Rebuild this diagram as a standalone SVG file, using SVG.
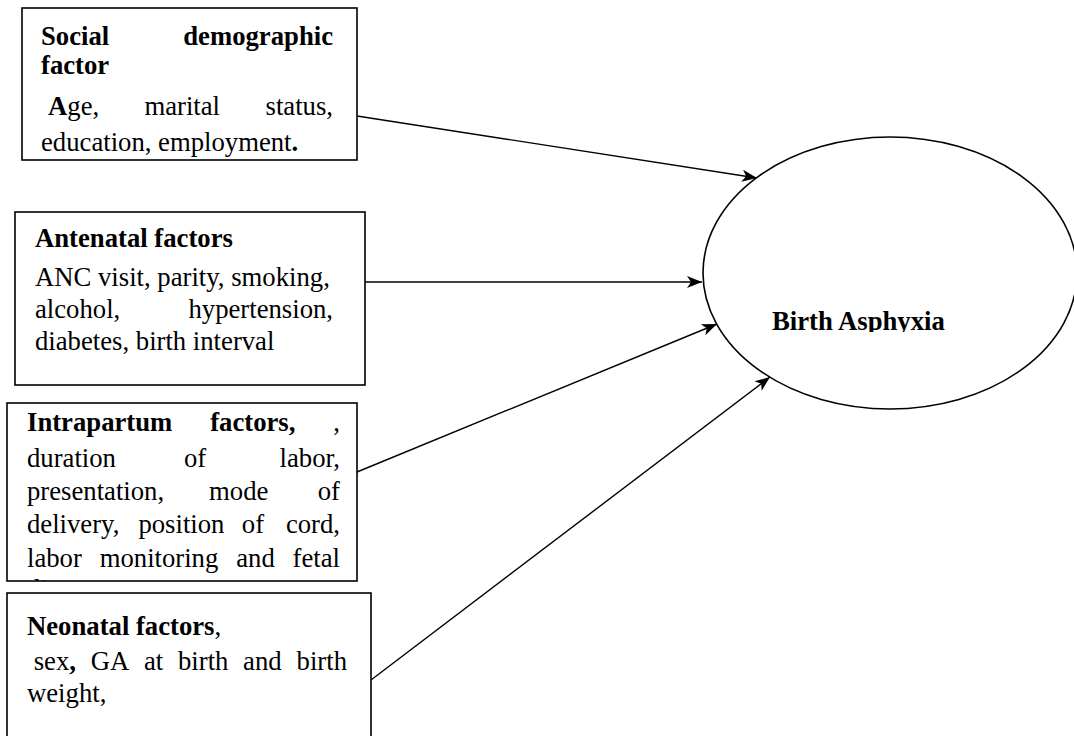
<svg xmlns="http://www.w3.org/2000/svg" width="1074" height="736" viewBox="0 0 1074 736">
<style>
text{font-family:"Liberation Serif","Times New Roman",serif;font-size:26.7px;fill:#000}
.b{font-weight:bold}
.box{fill:#fff;stroke:#000;stroke-width:1.6}
.conn{stroke:#000;stroke-width:1.4;fill:none;marker-end:url(#arr)}
.e{text-anchor:end}
</style>
<defs>
<marker id="arr" markerUnits="userSpaceOnUse" markerWidth="20" markerHeight="14" viewBox="-16 -7 18 14" refX="0" refY="0" orient="auto">
<path d="M0,0 L-15,-6 L-11,0 L-15,6 Z" fill="#000"/>
</marker>
<clipPath id="c3"><rect x="7" y="403" width="350" height="178"/></clipPath>
<clipPath id="cba"><rect x="700" y="280" width="300" height="52"/></clipPath>
</defs>
<rect width="1074" height="736" fill="#fff"/>
<g id="connectors">
<line class="conn" x1="357" y1="116" x2="757" y2="178"/>
<line class="conn" x1="365" y1="282" x2="702" y2="282"/>
<line class="conn" x1="357" y1="472" x2="717" y2="324"/>
<line class="conn" x1="371" y1="680" x2="770" y2="377"/>
</g>
<g id="social">
<rect class="box" x="22" y="8" width="335" height="152"/>
<text class="b" x="41" y="45">Social</text>
<text class="b e" x="333" y="45">demographic</text>
<text class="b" x="41" y="74">factor</text>
<text x="48" y="115"><tspan class="b">A</tspan>ge,</text>
<text x="144.4" y="115">marital</text>
<text class="e" x="333" y="115">status,</text>
<text x="41" y="151">education, employment<tspan class="b">.</tspan></text>
</g>
<g id="antenatal">
<rect class="box" x="15" y="212" width="350" height="173"/>
<text class="b" x="35" y="247">Antenatal factors</text>
<text x="35" y="286">ANC visit, parity, smoking,</text>
<text x="35" y="318">alcohol,</text>
<text class="e" x="333" y="318">hypertension,</text>
<text x="35" y="350">diabetes, birth interval</text>
</g>
<g id="intrapartum">
<rect class="box" x="7" y="403" width="350" height="178"/>
<g clip-path="url(#c3)">
<text class="b" x="27" y="431">Intrapartum</text>
<text class="b" x="210.2" y="431">factors,</text>
<text class="e" x="340" y="431">,</text>
<text x="27" y="467">duration</text>
<text x="183.9" y="467">of</text>
<text class="e" x="340" y="467">labor,</text>
<text x="27" y="500">presentation,</text>
<text x="209.1" y="500">mode</text>
<text class="e" x="340" y="500">of</text>
<text x="27" y="533">delivery,</text>
<text x="138.4" y="533">position</text>
<text x="241.8" y="533">of</text>
<text class="e" x="340" y="533">cord,</text>
<text x="27" y="567">labor</text>
<text x="99.7" y="567">monitoring</text>
<text x="236.2" y="567">and</text>
<text class="e" x="340" y="567">fetal</text>
<text x="27" y="598">distress</text>
</g>
</g>
<g id="neonatal">
<rect class="box" x="7" y="593" width="364" height="160"/>
<text x="27" y="635"><tspan class="b">Neonatal factors</tspan>,</text>
<text x="33.7" y="670">sex<tspan class="b">,</tspan></text>
<text x="90.7" y="670">GA</text>
<text x="144" y="670">at</text>
<text x="178" y="670">birth</text>
<text x="243.1" y="670">and</text>
<text class="e" x="347" y="670">birth</text>
<text x="27" y="702">weight,</text>
</g>
<g id="birth-asphyxia">
<ellipse cx="890" cy="273" rx="187" ry="136" fill="#fff" stroke="#000" stroke-width="1.6"/>
<text class="b" x="772" y="330" clip-path="url(#cba)">Birth Asphyxia</text>
</g>
</svg>
